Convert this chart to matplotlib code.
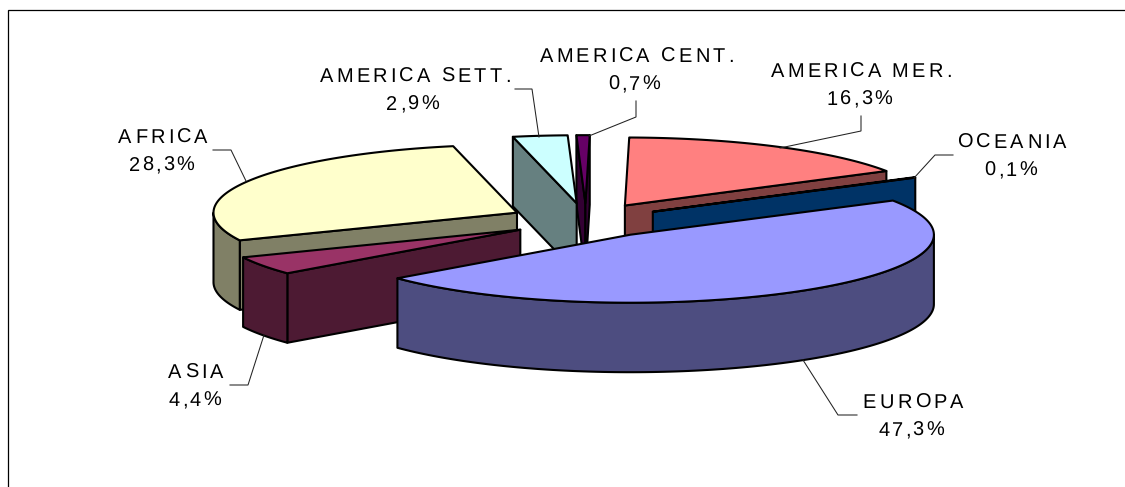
import numpy as np
import matplotlib
matplotlib.use("Agg")
import matplotlib.pyplot as plt
from matplotlib.patches import Polygon
from matplotlib.text import Text

plt.rcParams["text.hinting"] = "none"
plt.rcParams["text.hinting_factor"] = 1

# ---- data
names = ["EUROPA", "ASIA", "AFRICA", "AMERICA SETT.", "AMERICA CENT.", "AMERICA MER.", "OCEANIA"]
values = [47.3, 4.4, 28.3, 2.9, 0.7, 16.3, 0.1]
colors = ["#9999FF", "#993366", "#FFFFCC", "#CCFFFF", "#660066", "#FF8080", "#0066CC"]

# ---- layout (pixel-like axes)
W, H = 1125, 487
CX, CY = 586.0, 220.5
RX, RY = 303.5, 68.0
DEPTH = 69.5
EXPLODE = 0.255
FIRST_ANGLE = 59.5
TRACK_NAME = 3.2
TRACK_VALUE = 2.2

label_pos = {
    "EUROPA": (912.5, 408), "ASIA": (196, 378), "AFRICA": (163, 143),
    "AMERICA SETT.": (414, 82), "AMERICA CENT.": (635.5, 62),
    "AMERICA MER.": (861, 77), "OCEANIA": (1012, 148),
}
leaders = {
    "EUROPA": ([857, 838, 803], [415, 415, 360]),
    "ASIA": ([230, 248, 264], [385, 385, 335]),
    "AFRICA": ([213, 231, 246], [150, 150, 181]),
    "AMERICA SETT.": ([515, 532, 539], [89, 89, 137]),
    "AMERICA CENT.": ([636, 636, 589], [101, 117, 136]),
    "AMERICA MER.": ([861, 861, 780], [116, 131, 148]),
    "OCEANIA": ([953, 935, 914], [155, 155, 178]),
}


class TrackedText(Text):
    """A single text object drawn with letter spacing."""

    def draw(self, renderer):
        full = self.get_text()
        x0, y0 = self.get_position()
        prop = self.get_fontproperties()

        def w(s):
            return renderer.get_text_width_height_descent(s, prop, False)[0] if s else 0

        for i, line in enumerate(full.split("\n")):
            track = TRACK_VALUE if i else TRACK_NAME
            left = x0 - (w(line) + track * (len(line) - 1)) / 2 - (1.5 if i else 0)
            for k, ch in enumerate(line):
                Text.set_text(self, ch)
                Text.set_position(self, (left + w(line[:k]) + track * k, y0 + i * 27.7))
                Text.draw(self, renderer)
        Text.set_text(self, full)
        Text.set_position(self, (x0, y0))


fig = plt.figure(figsize=(W / 100, H / 100), dpi=100, facecolor="white")
ax = fig.add_axes([0, 0, 1, 1])
ax.set_xlim(0, W)
ax.set_ylim(H, 0)
ax.axis("off")

# chart frame
ax.plot([8, 8, W], [H, 10, 10], color="black", lw=0.9, solid_joinstyle="miter", zorder=1)

total = sum(values)
spans = [v / total * 360 for v in values]
starts = FIRST_ANGLE + np.concatenate([[0], np.cumsum(spans)[:-1]])
# EUROPA is the first series item; OCEANIA sits just before it, clockwise
starts = (starts + spans[-1]) % 360


def shade(hex_color):
    return tuple(c * 0.5 for c in matplotlib.colors.to_rgb(hex_color))


slices = []
for n, s, sp, c in zip(names, starts, spans, colors):
    slices.append(dict(name=n, a0=s, a1=s + sp, color=c))
slices.sort(key=lambda d: -np.cos(np.radians((d["a0"] + d["a1"]) / 2)))

edge = dict(edgecolor="black", linewidth=1.5, joinstyle="round")
z = 2
for sl in slices:
    a0, a1 = sl["a0"], sl["a1"]
    mid = np.radians((a0 + a1) / 2)
    ax_ = CX + EXPLODE * RX * np.sin(mid)
    ay_ = CY - EXPLODE * RY * np.cos(mid)

    def rim(a):
        a = np.radians(a)
        return ax_ + RX * np.sin(a), ay_ - RY * np.cos(a)

    dark = shade(sl["color"])
    # radial walls
    for ang, visible in ((a0, np.sin(np.radians(a0)) < 0), (a1, np.sin(np.radians(a1)) > 0)):
        if visible:
            rx, ry = rim(ang)
            ax.add_patch(Polygon([(ax_, ay_), (rx, ry), (rx, ry + DEPTH), (ax_, ay_ + DEPTH)],
                                 closed=True, facecolor=dark, zorder=z, **edge))
            z += 1
    # outer wall
    lo, hi = max(a0, 90), min(a1, 270)
    if hi > lo:
        t = np.linspace(lo, hi, 120)
        xs, ys = rim(t)
        pts = list(zip(xs, ys)) + list(zip(xs[::-1], ys[::-1] + DEPTH))
        ax.add_patch(Polygon(pts, closed=True, facecolor=dark, zorder=z, **edge))
        z += 1
    # top
    t = np.linspace(a0, a1, 240)
    xs, ys = rim(t)
    ax.add_patch(Polygon([(ax_, ay_)] + list(zip(xs, ys)), closed=True,
                         facecolor=sl["color"], zorder=z, **edge))
    z += 1

z += 1
for n, v in zip(names, values):
    lx, ly = leaders[n]
    ax.plot(lx, ly, color="#222222", lw=0.75, zorder=z, solid_joinstyle="miter")
    x, y = label_pos[n]
    label = n + "\n" + f"{v:.1f}".replace(".", ",") + "%"
    txt = TrackedText(x, y, label, color="black", fontsize=14.6, family="Liberation Sans",
                      ha="left", va="baseline", zorder=z + 1)
    ax.add_artist(txt)

fig.savefig("out.png", dpi=100, facecolor="white")
